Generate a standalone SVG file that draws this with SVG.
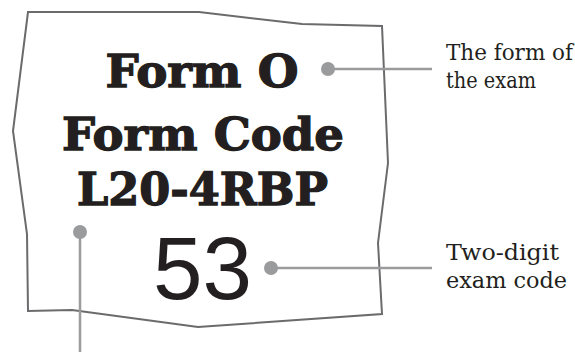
<svg xmlns="http://www.w3.org/2000/svg" width="575" height="352" viewBox="0 0 575 352">
<style>
.head{font-family:"DejaVu Serif","Liberation Serif",serif;font-weight:bold;font-size:45px;fill:#231f20;stroke:#231f20;stroke-width:1.3;text-anchor:middle}
.num{font-family:"Liberation Sans",Arial,sans-serif;font-size:89px;fill:#231f20;text-anchor:middle}
.lbl{font-family:"DejaVu Serif","Liberation Serif",serif;font-size:22px;fill:#231f20}
.lead{stroke:#9a9b9d;stroke-width:2.5;fill:none}
.dot{fill:#9a9b9d}
</style>
<rect width="575" height="352" fill="#ffffff"/>
<g id="card">
<polygon points="28,12 199,12 302,24 382,26 388,163 378,243 382,314 198,327 72,310 28,311 27,234 13,131" fill="#ffffff" stroke="#6b6b6d" stroke-width="2"/>
<text class="head" x="202" y="87" textLength="193" lengthAdjust="spacingAndGlyphs">Form O</text>
<text class="head" x="203" y="150" textLength="282" lengthAdjust="spacingAndGlyphs">Form Code</text>
<text class="head" x="202.5" y="205" textLength="251" lengthAdjust="spacingAndGlyphs">L20-4RBP</text>
<text class="num" x="202.5" y="299">53</text>
</g>
<g id="label-form">
<text class="lbl" x="446" y="60" textLength="127" lengthAdjust="spacingAndGlyphs">The form of</text>
<text class="lbl" x="446" y="88" textLength="90" lengthAdjust="spacingAndGlyphs">the exam</text>
</g>
<g id="label-code">
<text class="lbl" x="446" y="260" textLength="113" lengthAdjust="spacingAndGlyphs">Two-digit</text>
<text class="lbl" x="446" y="288" textLength="121" lengthAdjust="spacingAndGlyphs">exam code</text>
</g>
<g id="connectors">
<line class="lead" x1="328" y1="69" x2="432" y2="69"/>
<circle class="dot" cx="328" cy="69" r="7"/>
<line class="lead" x1="271" y1="268" x2="432" y2="268"/>
<circle class="dot" cx="271" cy="268" r="7"/>
<line class="lead" x1="80" y1="232" x2="80" y2="352"/>
<circle class="dot" cx="80" cy="232" r="7"/>
</g>
</svg>
